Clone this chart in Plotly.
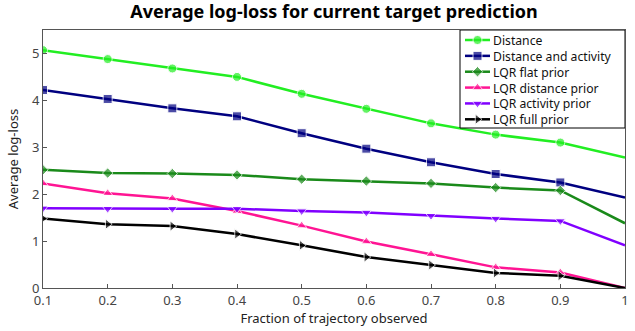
import plotly.graph_objects as go

x = [0.1, 0.2, 0.3, 0.4, 0.5, 0.6, 0.7, 0.8, 0.9, 1.0]
distance = [5.07, 4.88, 4.68, 4.50, 4.14, 3.82, 3.51, 3.27, 3.10, 2.78]
dist_act = [4.22, 4.03, 3.83, 3.66, 3.30, 2.97, 2.68, 2.43, 2.25, 1.93]
lqr_flat = [2.52, 2.45, 2.44, 2.41, 2.32, 2.28, 2.23, 2.14, 2.08, 1.38]
lqr_dist = [2.23, 2.02, 1.91, 1.64, 1.33, 0.99, 0.72, 0.44, 0.33, 0.0]
lqr_act = [1.70, 1.69, 1.69, 1.69, 1.64, 1.61, 1.54, 1.48, 1.43, 0.91]
lqr_full = [1.48, 1.36, 1.32, 1.15, 0.91, 0.66, 0.49, 0.32, 0.26, 0.0]

series = [
    ("Distance", distance, "#22ee22", "circle", 9),
    ("Distance and activity", dist_act, "#000080", "square", 9),
    ("LQR flat prior", lqr_flat, "#1a8a1a", "diamond", 8),
    ("LQR distance prior", lqr_dist, "#ff1493", "triangle-up", 9),
    ("LQR activity prior", lqr_act, "#8000ff", "triangle-down", 9),
    ("LQR full prior", lqr_full, "#000000", "triangle-right", 9),
]

W, H = 635, 331
ML, MR, MT, MB = 43, 10, 30, 43
PW, PH = W - ML - MR, H - MT - MB

def px_x(p):
    return (p - ML) / PW

def px_y(p):
    return (H - MB - p) / PH

fig = go.Figure()
for name, y, color, sym, sz in series:
    sizes = [sz] * (len(x) - 1) + [0]
    fig.add_trace(go.Scatter(
        x=x, y=y, name=name, mode="lines+markers", showlegend=False,
        line=dict(color=color, width=2.5),
        marker=dict(symbol=sym, size=sizes, color=color),
    ))

# compact legend like the reference, on an overlay axis in plot-fraction units
LEG_FONT = 12.2
ROW = LEG_FONT * 1.3
lg_left, lg_right, lg_top, lg_bottom = 460, 625, 30, 128
first_row = 40
bx0, bx1, by0, by1 = px_x(lg_left), px_x(lg_right), px_y(lg_bottom), px_y(lg_top)
fig.add_trace(go.Scatter(
    x=[bx0, bx1, bx1, bx0, bx0], y=[by0, by0, by1, by1, by0],
    mode="lines", fill="toself", fillcolor="white",
    line=dict(color="#000000", width=1), xaxis="x2", yaxis="y2",
    showlegend=False, hoverinfo="skip",
))
for i, (name, y, color, sym, sz) in enumerate(series):
    ey = px_y(first_row + i * ROW)
    fig.add_trace(go.Scatter(
        x=[px_x(465), px_x(477.5), px_x(490)], y=[ey, ey, ey],
        mode="lines+markers", xaxis="x2", yaxis="y2", showlegend=False, hoverinfo="skip",
        line=dict(color=color, width=2.5),
        marker=dict(symbol=sym, size=[0, sz, 0], color=color),
        cliponaxis=False,
    ))
mid_row = first_row + (len(series) - 1) * ROW / 2
annotations = [dict(
    x=px_x(492), y=px_y(mid_row), xref="x2", yref="y2",
    text="<br>".join(s[0] for s in series), showarrow=False, align="left",
    xanchor="left", yanchor="middle", borderpad=0,
    font=dict(size=LEG_FONT, color="#111111"),
)]

font_family = "Noto Sans, DejaVu Sans, sans-serif"
fig.update_layout(
    width=W, height=H,
    margin=dict(l=ML, r=MR, t=MT, b=MB, autoexpand=False),
    paper_bgcolor="white", plot_bgcolor="white",
    font=dict(family=font_family, size=13, color="#333333"),
    showlegend=False,
    title=dict(text="<b>Average log-loss for current target prediction</b>",
               x=0.5, xref="paper", xanchor="center", y=0.985, yanchor="top",
               font=dict(size=18, color="#000000")),
    xaxis=dict(range=[0.1, 1.0], tickvals=x,
               ticktext=["0.1", "0.2", "0.3", "0.4", "0.5", "0.6", "0.7", "0.8", "0.9", "1"],
               showline=True, linecolor="#555555", linewidth=1, mirror=True, automargin=False,
               ticks="inside", ticklen=4, tickcolor="#555555", showgrid=False, zeroline=False,
               title=dict(text="Fraction of trajectory observed", standoff=0, font=dict(size=13, color="#222222")),
               tickfont=dict(size=13, color="#444444")),
    yaxis=dict(range=[0, 5.5], tickvals=[0, 1, 2, 3, 4, 5],
               showline=True, linecolor="#555555", linewidth=1, mirror=True, automargin=False,
               ticks="inside", ticklen=4, tickcolor="#555555", showgrid=False, zeroline=False,
               title=dict(text="Average log-loss", standoff=10, font=dict(size=13, color="#222222")),
               tickfont=dict(size=13, color="#444444")),
    xaxis2=dict(overlaying="x", range=[0, 1], visible=False, fixedrange=True),
    yaxis2=dict(overlaying="y", range=[0, 1], visible=False, fixedrange=True),
    annotations=annotations,
)

fig.write_html("out.html", config={"displayModeBar": False},
               post_script="document.body.style.margin='0';document.body.style.overflow='hidden';")
